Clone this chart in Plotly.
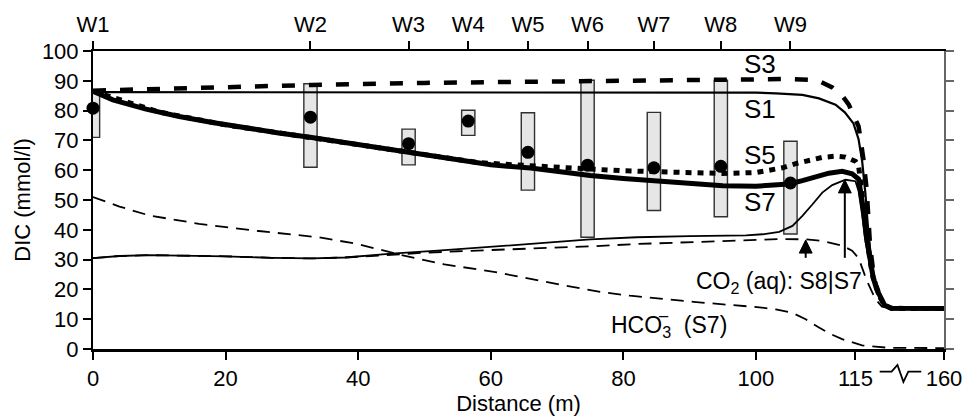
import numpy as np
import plotly.graph_objects as go

# ---- distance axis with a break: 0-115 m linear, 115-160 m squeezed ----
BREAK_AT = 115.0
AXIS_END = 160.0
END_POS = 128.36                     # position of 160 m on the drawn scale
SQUEEZE = (END_POS - BREAK_AT) / (AXIS_END - BREAK_AT)


def pos(x):
    x = np.asarray(x, dtype=float)
    return np.where(x <= BREAK_AT, x, BREAK_AT + (x - BREAK_AT) * SQUEEZE)


# ---- wells: distance (m), measured DIC (mmol/l) and observed range ----
well_names = ["W1", "W2", "W3", "W4", "W5", "W6", "W7", "W8", "W9"]
well_dist = [0.0, 32.8, 47.6, 56.6, 65.6, 74.6, 84.6, 94.7, 105.2]
well_dic = [80.8, 77.8, 68.9, 76.5, 66.0, 61.7, 60.8, 61.3, 55.7]
well_low = [71.0, 61.0, 61.8, 71.7, 53.3, 37.5, 46.5, 44.4, 38.6]
well_high = [86.5, 89.0, 73.8, 80.1, 79.3, 90.2, 79.4, 90.2, 69.7]

# ---- simulated DIC profiles ----
s1_x = [0, 50, 100, 103, 105, 107, 109.5, 112, 113.4, 114.7, 116.6, 118.4,
        120.1, 121.7, 123.4, 125.8, 129.8, 133.2, 140, 160]
s1_y = [86.2, 86.2, 86.0, 85.8, 85.6, 85.3, 84.1, 82.0, 79.4, 75.7, 70.4, 63.1,
        52.0, 38.0, 28.0, 20.0, 14.7, 13.7, 13.6, 13.6]

s3_x = [0, 10, 20, 33, 50, 75, 90, 100, 105, 108, 109.5, 111.5, 113, 114, 115,
        116.6, 119.0, 120.7, 122.4, 124.4, 126.8, 129.8, 133.2, 140, 160]
s3_y = [86.7, 87.3, 87.9, 88.6, 89.3, 89.9, 90.3, 90.5, 90.6, 90.3, 89.9, 87.8,
        85.0, 82.0, 77.5, 74.7, 64.0, 53.6, 35.0, 24.0, 18.0, 14.8, 13.7, 13.6, 13.6]

s5_x = [0, 10, 20, 30, 40, 50, 55, 58, 62, 66, 70, 75, 80, 85, 90, 95, 100, 102,
        104, 106, 108, 110, 112, 113.5, 115, 116.6, 117.8, 119.0, 120.5, 122.4,
        124.0, 125.8, 127.8, 129.8, 133.2, 140, 160]
s5_y = [86.5, 79.5, 75.2, 71.9, 68.5, 65.0, 63.3, 62.6, 62.0, 61.4, 61.0, 60.4,
        59.8, 59.4, 59.1, 58.9, 59.2, 59.8, 60.8, 62.2, 63.4, 64.3, 64.7, 64.4,
        63.0, 61.5, 55.0, 47.5, 38.5, 29.5, 24.0, 20.0, 17.0, 14.7, 13.7, 13.6, 13.6]

s7_x = [0, 3, 8, 13, 18, 23, 28, 33, 37, 42, 48, 55, 60, 66, 70, 75, 80, 85, 90,
        95, 100, 103, 105, 107, 109, 111, 113, 114.5, 116.6, 117.8, 119.0, 120.5,
        122.4, 124.0, 125.8, 127.8, 129.8, 133.2, 140, 160]
s7_y = [86.5, 83.6, 80.5, 78.0, 76.0, 74.1, 72.5, 71.0, 69.6, 67.8, 65.7, 63.2,
        61.8, 60.7, 59.5, 58.2, 57.2, 56.3, 55.4, 54.8, 54.6, 54.9, 55.4, 56.5,
        57.9, 59.0, 59.6, 58.8, 57.0, 52.0, 47.0, 38.0, 29.4, 24.0, 20.0, 17.0,
        14.7, 13.7, 13.6, 13.6]

co2_s7_x = [0, 4, 8.5, 15, 20, 27, 33, 38, 45, 52, 60, 68, 75, 82, 90, 98.5, 101,
            103.5, 105.5, 107, 108.5, 110, 111.5, 113.5, 115, 116.6, 118.4, 120.1,
            122.4, 125.8, 129.8, 133.2, 140, 160]
co2_s7_y = [30.5, 31.2, 31.5, 31.4, 31.1, 30.6, 30.4, 30.7, 32.0, 33.0, 34.2, 35.6,
            36.8, 37.5, 37.9, 38.1, 38.5, 39.3, 41.3, 44.7, 48.5, 52.5, 55.0, 56.8,
            56.3, 53.0, 45.0, 36.0, 28.0, 20.0, 14.7, 13.7, 13.6, 13.6]

co2_s8_x = [0, 4, 8.5, 15, 20, 27, 33, 38, 45, 50, 55, 60.7, 68, 75.7, 81.6, 90,
            95.5, 100, 104, 107.5, 110, 113, 114.5, 116.6, 120.7, 125.1, 128.5,
            133.2, 140, 160]
co2_s8_y = [30.5, 31.2, 31.5, 31.4, 31.1, 30.6, 30.4, 30.7, 31.7, 32.3, 32.8, 33.2,
            33.9, 34.5, 35.2, 35.9, 36.3, 36.7, 36.9, 36.8, 36.3, 34.7, 33.0, 30.5,
            23.1, 16.8, 14.2, 13.6, 13.6, 13.6]

hco3_x = [0, 4, 8.5, 16, 25, 34, 40, 46, 53, 60.7, 70.7, 77, 81, 90.6, 100.5, 103,
          105.5, 107.5, 109.5, 111, 113, 114.5, 118.4, 125.1, 131.8, 160]
hco3_y = [51.0, 47.8, 44.8, 42.0, 39.6, 37.5, 35.2, 31.8, 28.4, 25.8, 21.5, 19.0,
          17.9, 15.8, 14.0, 13.3, 12.1, 10.0, 7.2, 5.3, 3.3, 2.2, 1.2, 0.8, 0.4, 0.3]

# arrows marking CO2(aq) of S8 and S7 just upstream of the outlet
arrow_x = [107.5, 113.4]          # distance (m)
arrow_tail = [30.6, 30.6]         # DIC at the arrow tail
arrow_tip = [36.6, 56.8]          # DIC at the arrow tip

dist_ticks = [0, 20, 40, 60, 80, 100, 115, 160]
dic_ticks = list(range(0, 101, 10))

FONT = "Liberation Sans, Arial, Helvetica, sans-serif"
INK = "black"

# plot-area geometry (pixels) used for sizing the arrowheads and the break mark
PLOT_L, PLOT_T, PLOT_W, PLOT_H = 93, 43, 860, 317
X_PER_PX = END_POS / PLOT_W
Y_PER_PX = 100.0 / PLOT_H

fig = go.Figure()

# observed ranges as open grey boxes
fig.add_trace(go.Bar(
    x=pos(well_dist), base=well_low,
    y=[h - l for h, l in zip(well_high, well_low)],
    width=2.0, marker=dict(color="#e6e6e6", line=dict(color="#303030", width=1.4)),
    showlegend=False, hoverinfo="skip"))


def line(x, y, width, dash="solid"):
    fig.add_trace(go.Scatter(x=pos(x), y=y, mode="lines",
                             line=dict(color=INK, width=width, dash=dash),
                             showlegend=False, hoverinfo="skip"))


line(hco3_x, hco3_y, 1.8, "13px,8px")
line(co2_s8_x, co2_s8_y, 1.8, "13px,8px")
line(co2_s7_x, co2_s7_y, 1.8)
line(s1_x, s1_y, 2.2)
line(s3_x, s3_y, 4.5, "13px,14px")
line(s5_x, s5_y, 5, "6px,6px")
line(s7_x, s7_y, 5)

# measured DIC
fig.add_trace(go.Scatter(x=pos(well_dist), y=well_dic, mode="markers",
                         marker=dict(color=INK, size=13),
                         cliponaxis=False, showlegend=False, hoverinfo="skip"))

# carrier trace for the top / right axes
fig.add_trace(go.Scatter(x=[0], y=[0], xaxis="x2", yaxis="y2", mode="markers",
                         marker=dict(opacity=0), showlegend=False, hoverinfo="skip"))

# arrows: shaft plus filled head
HEAD_LEN_PX, HEAD_HALF_W_PX = 14, 6.5
for xa, tail, tip in zip(arrow_x, arrow_tail, arrow_tip):
    xp = float(pos(xa))
    base = tip - HEAD_LEN_PX * Y_PER_PX
    hw = HEAD_HALF_W_PX * X_PER_PX
    fig.add_shape(type="line", x0=xp, x1=xp, y0=tail, y1=base + 0.5,
                  xref="x", yref="y", line=dict(color=INK, width=2))
    fig.add_shape(type="path", xref="x", yref="y",
                  path=f"M {xp - hw},{base} L {xp + hw},{base} L {xp},{tip} Z",
                  fillcolor=INK, line=dict(color=INK, width=1))

x_range = [0, float(pos(AXIS_END))]
tick_font = dict(family=FONT, size=22, color=INK)

fig.update_layout(
    width=974, height=420,
    margin=dict(l=PLOT_L, r=974 - PLOT_L - PLOT_W, t=PLOT_T, b=420 - PLOT_T - PLOT_H),
    paper_bgcolor="white", plot_bgcolor="white",
    barmode="overlay",
    font=dict(family=FONT, color=INK),
    xaxis=dict(range=x_range, tickmode="array",
               tickvals=pos(dist_ticks).tolist(),
               ticktext=[str(t) for t in dist_ticks],
               ticks="outside", ticklen=8, tickwidth=1.5, tickcolor=INK,
               showline=True, linecolor=INK, linewidth=2.5,
               showgrid=False, zeroline=False, tickfont=tick_font,
               title=dict(text="Distance (m)", font=dict(family=FONT, size=22),
                          standoff=1)),
    xaxis2=dict(range=x_range, overlaying="x", side="top", tickmode="array",
                tickvals=pos(well_dist).tolist(), ticktext=well_names,
                ticks="outside", ticklen=8, tickwidth=1.5, tickcolor=INK,
                showline=True, linecolor=INK, linewidth=2,
                showgrid=False, zeroline=False, tickfont=tick_font),
    yaxis=dict(range=[0, 100], tickmode="array", tickvals=dic_ticks,
               ticks="outside", ticklen=8, tickwidth=1.5, tickcolor=INK,
               showline=True, linecolor=INK, linewidth=2,
               showgrid=False, zeroline=False, tickfont=tick_font,
               title=dict(text="DIC (mmol/l)", font=dict(family=FONT, size=22),
                          standoff=5)),
    yaxis2=dict(range=[0, 100], overlaying="y", side="right", tickmode="array",
                tickvals=dic_ticks, showticklabels=False,
                ticks="outside", ticklen=8, tickwidth=1.5, tickcolor="#666666",
                showline=True, linecolor="#666666", linewidth=1.5,
                showgrid=False, zeroline=False),
)

# scenario labels
for name, yv in [("S3", 95.6), ("S1", 80.4), ("S5", 65.0), ("S7", 49.2)]:
    fig.add_annotation(x=100.6, y=yv, text=name, showarrow=False,
                       font=dict(family=FONT, size=26, color=INK),
                       xanchor="center", yanchor="middle")

fig.add_annotation(x=103.4, y=22.4, text="CO<sub>2</sub> (aq): S8|S7", showarrow=False,
                   font=dict(family=FONT, size=23, color=INK),
                   xanchor="center", yanchor="middle")

# bicarbonate label: HCO3 with the charge bar set over the subscript 3
fig.add_annotation(x=77.9, y=7.4, text="HCO<sub>3</sub>  (S7)", showarrow=False,
                   font=dict(family=FONT, size=23, color=INK),
                   xanchor="left", yanchor="middle")
fig.add_annotation(x=86.0, y=10.9, text="\u2212", showarrow=False,
                   font=dict(family=FONT, size=19, color=INK),
                   xanchor="center", yanchor="middle")


# axis-break mark between the 115 and 160 labels (pixel -> paper)
def px_to_paper(px, py):
    return (px - PLOT_L) / PLOT_W, (PLOT_T + PLOT_H - py) / PLOT_H


zig = [(888, 384), (900, 384), (906, 377), (912, 395), (917, 384), (930, 384)]
pts = [px_to_paper(a, b) for a, b in zig]
path = "M " + " L ".join(f"{a:.4f},{b:.4f}" for a, b in pts)
fig.add_shape(type="path", path=path, xref="paper", yref="paper",
              line=dict(color=INK, width=1.8))

fig.write_html("out.html")
